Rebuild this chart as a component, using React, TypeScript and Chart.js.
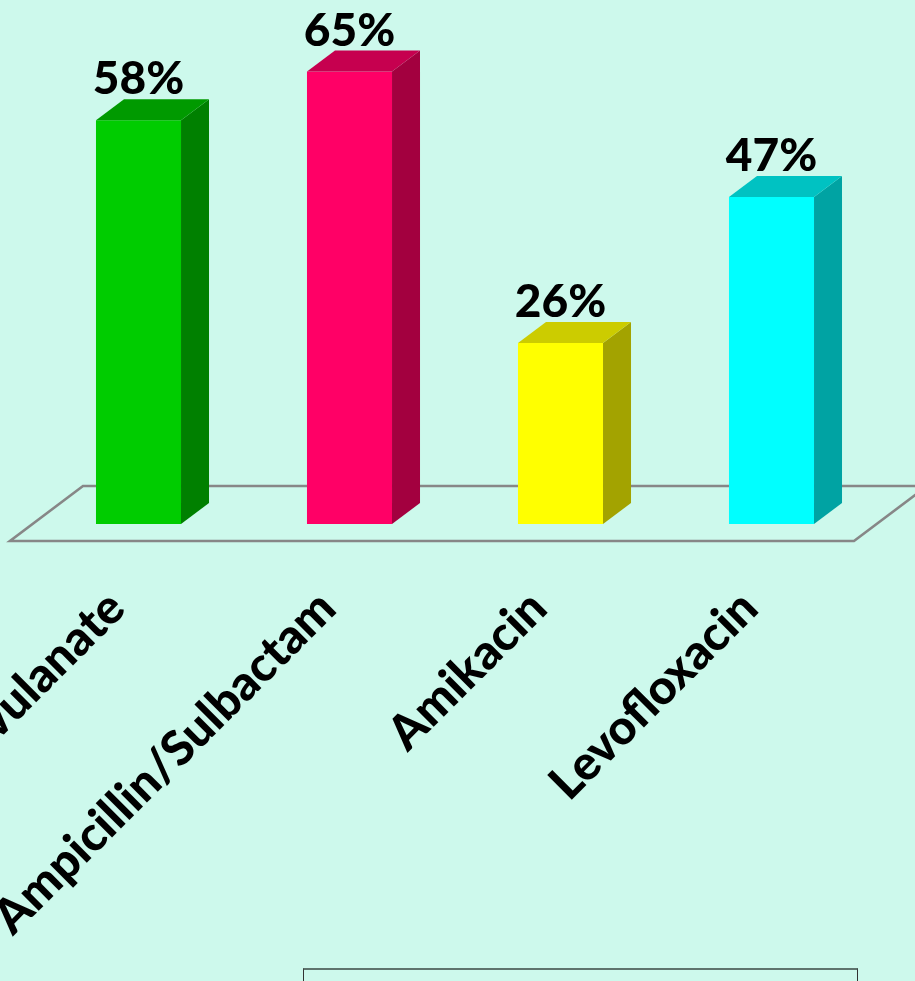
import React, { useEffect, useRef } from "react";
import { Chart, registerables } from "chart.js";

Chart.register(...registerables);

// ---- data ----
const categories = ["Amoxicillin/Clavulanate", "Ampicillin/Sulbactam", "Amikacin", "Levofloxacin"];
const values = [58, 65, 26, 47];
const valueLabels = ["58%", "65%", "26%", "47%"];

// ---- styles ----
const frontColors = ["#00CC00", "#FF0066", "#FFFF00", "#00FFFF"];
const topColors = ["#009A00", "#C6004F", "#CCCC00", "#00C2C2"];
const sideColors = ["#008000", "#A3003F", "#A3A300", "#00A3A3"];
const BG = "#CDF9EC";
const FONT = "Lato, 'Open Sans', sans-serif";

const bar3d = {
  id: "bar3d",
  beforeDatasetsDraw(chart: any) {
    const { ctx, chartArea } = chart;
    const base = chart.scales.y.getPixelForValue(0);
    ctx.save();
    ctx.strokeStyle = "#878787";
    ctx.lineWidth = 2.6;
    ctx.lineJoin = "miter";
    const fy = base + 17;
    const by = base - 38;
    ctx.beginPath();
    ctx.moveTo(chartArea.left - 23, fy);
    ctx.lineTo(chartArea.right - 23, fy);
    ctx.lineTo(chartArea.right + 50, by);
    ctx.lineTo(chartArea.left + 50, by);
    ctx.closePath();
    ctx.stroke();
    ctx.restore();
  },
  afterDatasetsDraw(chart: any) {
    const { ctx } = chart;
    const meta = chart.getDatasetMeta(0);
    const dx = 28;
    const dy = -21;
    ctx.save();
    meta.data.forEach((bar: any, i: number) => {
      const { x, y, base, width } = bar.getProps(["x", "y", "base", "width"], true);
      const l = x - width / 2;
      const r = x + width / 2;
      // side face
      ctx.fillStyle = sideColors[i];
      ctx.beginPath();
      ctx.moveTo(r, y);
      ctx.lineTo(r + dx, y + dy);
      ctx.lineTo(r + dx, base + dy);
      ctx.lineTo(r, base);
      ctx.closePath();
      ctx.fill();
      // top face
      ctx.fillStyle = topColors[i];
      ctx.beginPath();
      ctx.moveTo(l, y);
      ctx.lineTo(l + dx, y + dy);
      ctx.lineTo(r + dx, y + dy);
      ctx.lineTo(r, y);
      ctx.closePath();
      ctx.fill();
      // value label
      ctx.fillStyle = "#000000";
      ctx.font = `900 46px ${FONT}`;
      ctx.textAlign = "center";
      ctx.textBaseline = "alphabetic";
      ctx.fillText(valueLabels[i], x, y + dy - 5);
      // category label
      ctx.save();
      ctx.translate(x - 11, base + 87);
      ctx.rotate(-Math.PI / 4);
      ctx.font = `900 48px ${FONT}`;
      ctx.textAlign = "right";
      ctx.textBaseline = "alphabetic";
      ctx.fillText(categories[i], 0, 0);
      ctx.restore();
    });
    ctx.restore();
  },
};

export default function App() {
  const ref = useRef<HTMLCanvasElement | null>(null);

  useEffect(() => {
    document.body.style.margin = "0";
    document.body.style.overflow = "hidden";
    const canvas = ref.current;
    if (!canvas) return;
    const chart = new Chart(canvas, {
      type: "bar",
      data: {
        labels: categories,
        datasets: [
          {
            data: values,
            backgroundColor: frontColors,
            borderWidth: 0,
            barPercentage: 0.403,
            categoryPercentage: 1,
          },
        ],
      },
      options: {
        animation: false,
        responsive: false,
        devicePixelRatio: 1,
        layout: { padding: { left: 33, right: 38, top: 2, bottom: 457 } },
        plugins: {
          legend: { display: false },
          tooltip: { enabled: false },
          title: { display: false },
        },
        scales: {
          x: { display: false },
          y: { display: false, min: 0, max: 75 },
        },
      },
      plugins: [bar3d],
    });
    return () => chart.destroy();
  }, []);

  return (
    <div
      style={{
        position: "absolute",
        left: 0,
        top: 0,
        width: 915,
        height: 981,
        background: BG,
        overflow: "hidden",
      }}
    >
      <canvas ref={ref} width={915} height={981} style={{ display: "block" }} />
      <div
        style={{
          position: "absolute",
          left: 303,
          top: 968,
          width: 555,
          height: 40,
          borderTop: "2px solid #5E746D",
          borderLeft: "1px solid #333",
          borderRight: "1px solid #333",
          boxSizing: "border-box",
        }}
      />
    </div>
  );
}
